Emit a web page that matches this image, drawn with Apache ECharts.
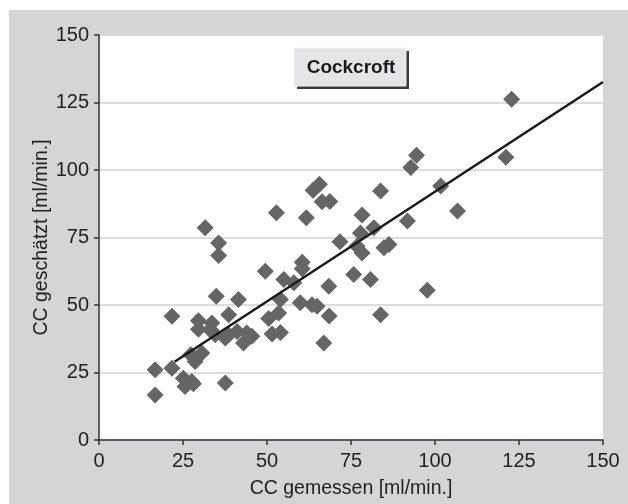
<!DOCTYPE html>
<html>
<head>
<meta charset="utf-8">
<script src="https://cdn.jsdelivr.net/npm/echarts@6/dist/echarts.min.js"></script>
<style>
  html, body { margin: 0; padding: 0; background: #fff; }
  #chart { width: 628px; height: 504px; }
</style>
</head>
<body>
<div id="chart"></div>
<script>
(() => {
    const FONT = "'Liberation Sans', Arial, sans-serif";

    // CC measured (x) and CC estimated by Cockcroft (y), ml/min.
    const measuredCC = [
        16.7, 16.7, 21.7, 21.7, 25.1, 25.6, 27.6, 28.1, 27.3, 30.6,
        28.6, 29.6, 29.6, 31.6, 33.6, 33.1, 34.6, 34.9, 35.6, 35.6,
        37.6, 37.6, 38.6, 38.6, 41.1, 41.5, 43.0, 44.0, 45.5, 49.5,
        50.5, 51.5, 53.5, 54.0, 54.0, 52.8, 55.0, 58.0, 59.9, 60.5,
        60.5, 61.7, 63.4, 64.9, 63.7, 65.6, 66.4, 68.7, 66.9, 68.4,
        68.5, 71.7, 75.8, 76.8, 77.8, 78.3, 78.3, 80.8, 81.8, 83.8,
        83.8, 84.8, 86.3, 91.8, 92.8, 94.5, 97.7, 101.7, 106.7, 121.1,
        122.8
    ];
    const estimatedCC = [
        26.0, 16.7, 26.6, 45.8, 22.9, 19.8, 21.7, 20.8, 31.6, 32.2,
        29.1, 44.2, 41.0, 78.6, 43.3, 40.8, 39.0, 53.2, 73.0, 68.3,
        37.8, 21.1, 46.4, 39.0, 40.2, 52.0, 35.9, 39.6, 38.4, 62.5,
        45.0, 39.3, 47.0, 52.0, 39.8, 84.2, 59.4, 58.2, 50.8, 65.8,
        63.4, 82.3, 50.1, 49.5, 92.5, 94.7, 88.2, 88.3, 35.9, 56.9,
        45.9, 73.4, 61.3, 71.8, 76.7, 83.3, 69.3, 59.4, 78.6, 92.2,
        46.4, 71.2, 72.4, 81.1, 100.9, 105.5, 55.5, 94.1, 84.8, 104.7,
        126.2
    ];

    // linear trend line end points
    const trendX = [22.5, 150];
    const trendY = [29.0, 132.6];

    const axisTicks = [0, 25, 50, 75, 100, 125, 150];
    const titleText = "Cockcroft";

    const points = measuredCC.map((x, i) => [x, estimatedCC[i]]);
    const trend = trendX.map((x, i) => [x, trendY[i]]);

    const axisCommon = {
        type: 'value',
        min: axisTicks[0],
        max: axisTicks[axisTicks.length - 1],
        interval: 25,
        nameLocation: 'middle',
        nameMoveOverlap: false,
        nameTextStyle: { fontFamily: FONT, fontSize: 19.5, color: '#222' },
        axisLine: { show: true, lineStyle: { color: '#333', width: 1.5 } },
        axisTick: { show: true, inside: false, length: 5, lineStyle: { color: '#333', width: 1.5 } },
        axisLabel: { fontFamily: FONT, fontSize: 20, color: '#222' }
    };

    const chart = echarts.init(document.getElementById('chart'));
    chart.setOption({
        animation: false,
        backgroundColor: '#fff',
        graphic: [
            {
                type: 'rect', z: -10, silent: true,
                shape: { x: 9, y: 10, width: 619, height: 494 },
                style: { fill: '#d4d5d7' }
            },
            {
                type: 'group', z: 100,
                children: [
                    { type: 'rect', shape: { x: 297, y: 51, width: 112, height: 38 }, style: { fill: '#3a3a3a' } },
                    { type: 'rect', shape: { x: 294, y: 48, width: 112, height: 38 },
                      style: { fill: '#e4e5e6', stroke: '#f4f4f4', lineWidth: 1 } },
                    { type: 'text', x: 351, y: 68,
                      style: { text: titleText, fontFamily: FONT, fontWeight: 'bold', fontSize: 19,
                               fill: '#1a1a1a', align: 'center', verticalAlign: 'middle' } }
                ]
            }
        ],
        grid: {
            left: 99, right: 25, top: 35, bottom: 64,
            show: true, backgroundColor: '#fff', borderWidth: 0
        },
        xAxis: Object.assign({}, axisCommon, {
            name: 'CC gemessen [ml/min.]',
            nameGap: 39,
            splitLine: { show: false },
            axisLabel: Object.assign({}, axisCommon.axisLabel, { margin: 11 })
        }),
        yAxis: Object.assign({}, axisCommon, {
            name: 'CC geschätzt [ml/min.]',
            nameGap: 47,
            splitLine: { show: true, lineStyle: { color: '#d2d2d2', width: 1.5 } },
            axisLabel: Object.assign({}, axisCommon.axisLabel, { margin: 10 })
        }),
        series: [
            {
                type: 'scatter',
                data: points,
                symbol: 'diamond',
                symbolSize: 17,
                itemStyle: { color: '#656567', opacity: 1 },
                z: 2
            },
            {
                type: 'line',
                data: trend,
                showSymbol: false,
                symbol: 'none',
                lineStyle: { color: '#1a1a1a', width: 2.5 },
                z: 3
            }
        ]
    });
})();
</script>
</body>
</html>
